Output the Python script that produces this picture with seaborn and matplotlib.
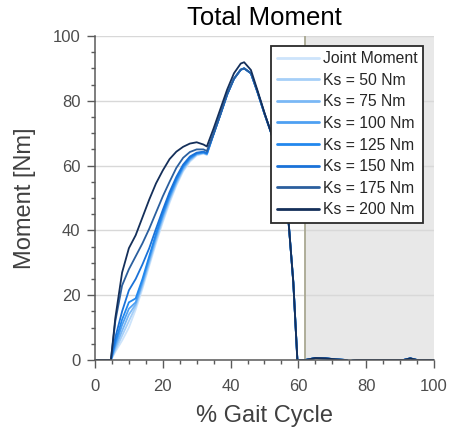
import numpy as np
import pandas as pd
import matplotlib
matplotlib.use("Agg")
import matplotlib.pyplot as plt
from matplotlib.ticker import MultipleLocator
import seaborn as sns

# % gait cycle sample points
gait = [0, 4.7, 6, 8, 10, 12, 14, 16, 18, 20, 22, 24, 26, 28, 30, 32, 33,
        35, 37, 39, 41, 43, 44, 46, 48, 50, 52, 54, 56, 57, 58.5, 59.7,
        62, 65, 68, 71, 74, 75, 77, 91, 93, 95, 100]

# loading phase (0 - 33 %) for each condition
rise_joint = [0, 0, 2.5, 6, 10, 15.5, 22, 29, 36, 42.5, 48.5, 53.8, 58.2, 61.2, 63.1, 63.7, 63.3]
rise_50 = [0, 0, 3, 7.5, 12, 16.5, 22.8, 29.8, 36.8, 43.2, 49.2, 54.3, 58.6, 61.5, 63.3, 63.8, 63.4]
rise_75 = [0, 0, 3.8, 9, 14, 17.2, 23.5, 30.5, 37.5, 44, 49.8, 54.8, 59, 61.8, 63.5, 63.9, 63.5]
rise_100 = [0, 0, 4.6, 10.8, 15.8, 17.8, 24.2, 31.3, 38.2, 44.6, 50.3, 55.3, 59.4, 62.1, 63.6, 64, 63.6]
rise_125 = [0, 0, 5.5, 12.5, 17.8, 19, 25, 32, 39, 45.3, 51, 55.8, 59.8, 62.4, 63.8, 64.1, 63.7]
rise_150 = [0, 0, 7, 15, 21.5, 25, 29.5, 34.5, 40.5, 46.3, 51.8, 56.5, 60.3, 62.8, 64, 64.3, 63.9]
rise_175 = [0, 0, 12, 23, 28, 32, 36, 40.5, 45.5, 50.5, 55, 59.3, 62.4, 64.2, 65, 65, 64.5]
rise_200 = [0, 0, 13, 27, 34.5, 38.5, 44, 49.5, 54.5, 58.5, 62, 64.3, 65.8, 66.8, 67.2, 66.5, 65.9]

# push-off phase (35 - 59.7 %)
fall_shared = [69.8, 75.8, 82, 86.8, 89.6, 90, 88.5, 82.5, 76, 70, 62, 51, 44, 24, 0]
fall_200 = [71.5, 77.5, 83.5, 88.5, 91.5, 91.9, 89.5, 83, 76.3, 70, 62, 51, 44, 24, 0]

# swing phase (62 - 100 %)
swing = [0, 0.6, 0.5, 0.2, 0, -0.4, 0, 0, 0.5, 0, 0]

labels = ["Joint Moment", "Ks = 50 Nm", "Ks = 75 Nm", "Ks = 100 Nm",
          "Ks = 125 Nm", "Ks = 150 Nm", "Ks = 175 Nm", "Ks = 200 Nm"]
colors = ["#cde4fb", "#a6cff8", "#7ab8f5", "#4ea0f2",
          "#2288ee", "#1a72d8", "#2b5f9e", "#142f5a"]

series = {
    labels[0]: rise_joint + fall_shared + swing,
    labels[1]: rise_50 + fall_shared + swing,
    labels[2]: rise_75 + fall_shared + swing,
    labels[3]: rise_100 + fall_shared + swing,
    labels[4]: rise_125 + fall_shared + swing,
    labels[5]: rise_150 + fall_shared + swing,
    labels[6]: rise_175 + fall_shared + swing,
    labels[7]: rise_200 + fall_200 + swing,
}

rows = []
for name, vals in series.items():
    for g, v in zip(gait, vals):
        rows.append({"gait": g, "moment": v, "condition": name})
df = pd.DataFrame(rows)

sns.set_theme(style="ticks")
plt.rcParams["font.family"] = ["Liberation Sans", "DejaVu Sans"]

fig = plt.figure(figsize=(4.51, 4.30), dpi=100)
ax = fig.add_axes([0.2106, 0.1628, 0.7517, 0.7535])

# swing phase shading
ax.axvspan(62, 100, ymin=0, ymax=1, color="#e8e8e8", zorder=0, lw=0)
ax.axvline(62, color="#a9a892", lw=1.3, zorder=1)

sns.lineplot(data=df, x="gait", y="moment", hue="condition", hue_order=labels,
             palette=colors, estimator=None, sort=False, lw=1.3, ax=ax, zorder=3)

ax.set_xlim(0, 100)
ax.set_ylim(0, 100)
ax.xaxis.set_major_locator(MultipleLocator(20))
ax.yaxis.set_major_locator(MultipleLocator(20))
ax.xaxis.set_minor_locator(MultipleLocator(5))
ax.yaxis.set_minor_locator(MultipleLocator(5))
ax.yaxis.grid(True, color="#d8d8d8", lw=1.0, zorder=0.5)

for side in ["top", "right"]:
    ax.spines[side].set_visible(False)
for side in ["left", "bottom"]:
    ax.spines[side].set_color("#5a5a5a")
    ax.spines[side].set_linewidth(1.1)
    ax.spines[side].set_zorder(4)

ax.tick_params(which="major", direction="out", length=5.5, width=1.0,
               color="#5a5a5a", labelsize=12, labelcolor="#4d4d4d")
ax.tick_params(axis="x", which="major", pad=8)
ax.tick_params(axis="y", which="major", pad=5)
ax.tick_params(which="minor", direction="out", length=3, width=1.0, color="#5a5a5a")

ax.set_title("Total Moment", fontsize=18.5, color="black", pad=8)
ax.set_xlabel("% Gait Cycle", fontsize=17, color="#404040", labelpad=8)
ax.set_ylabel("Moment [Nm]", fontsize=17, color="#404040", labelpad=12)

leg = ax.legend(loc="upper right", bbox_to_anchor=(0.968, 0.97), fontsize=11.3,
                frameon=True, fancybox=False, borderaxespad=0, handlelength=2.7,
                handletextpad=0.25, labelspacing=0.42, borderpad=0.35)
leg.get_frame().set_edgecolor("#2a2a2a")
leg.get_frame().set_linewidth(1.3)
leg.get_frame().set_alpha(1)
for line in leg.get_lines():
    line.set_linewidth(2)

fig.savefig("out.png", dpi=100)
